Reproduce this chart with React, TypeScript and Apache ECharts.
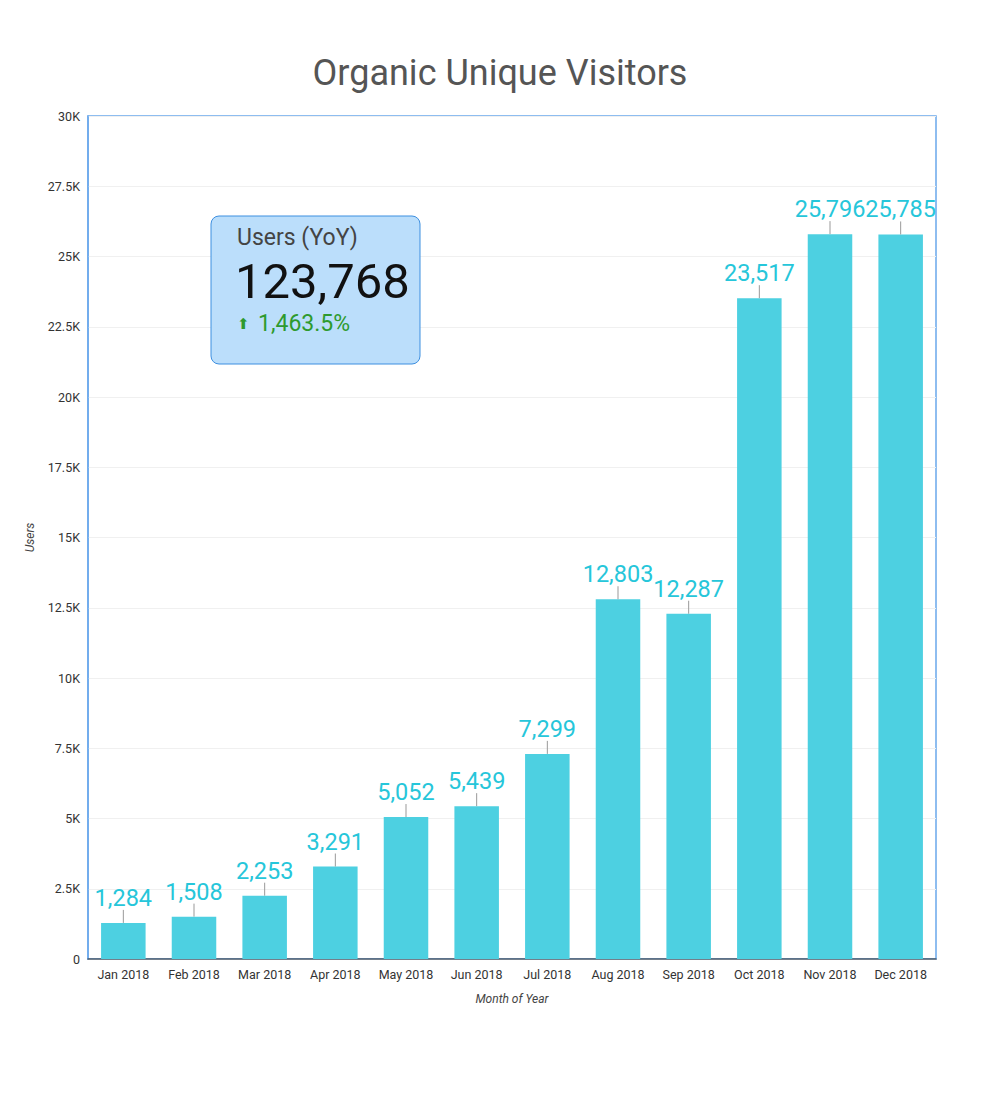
import React, { useEffect, useRef } from "react";
import * as echarts from "echarts";

const months = ["Jan 2018", "Feb 2018", "Mar 2018", "Apr 2018", "May 2018", "Jun 2018", "Jul 2018", "Aug 2018", "Sep 2018", "Oct 2018", "Nov 2018", "Dec 2018"];
const users = [1284, 1508, 2253, 3291, 5052, 5439, 7299, 12803, 12287, 23517, 25796, 25785];
const yTicks = ["0", "2.5K", "5K", "7.5K", "10K", "12.5K", "15K", "17.5K", "20K", "22.5K", "25K", "27.5K", "30K"];
const kpiTitle = "Users (YoY)";
const kpiValue = "123,768";
const kpiChange = "1,463.5%";

const FONT = "Roboto, 'Noto Sans', sans-serif";

export default function App() {
  const ref = useRef<HTMLDivElement>(null);
  useEffect(() => {
    const chart = echarts.init(ref.current!, null, { renderer: "svg" });
    const option: any = {
      animation: false,
      backgroundColor: "#fff",
      textStyle: { fontFamily: FONT },
      title: {
        text: "Organic Unique Visitors",
        left: "center",
        top: 50,
        textStyle: { fontFamily: FONT, fontSize: 36, fontWeight: "normal", color: "#555" },
      },
      grid: {
        left: 88,
        right: 64,
        top: 116,
        bottom: 141,
        show: true,
        borderColor: "#6aa8ec",
        borderWidth: 1.5,
        containLabel: false,
      },
      xAxis: {
        type: "category",
        data: months,
        name: "Month of Year",
        nameLocation: "middle",
        nameGap: 34,
        nameTextStyle: { fontStyle: "italic", fontSize: 12, color: "#444", fontFamily: FONT },
        axisLine: { lineStyle: { color: "#4a5a6a", width: 1.5 } },
        axisTick: { show: false },
        axisLabel: { interval: 0, fontSize: 12.5, color: "#333", margin: 9, fontFamily: FONT },
      },
      yAxis: {
        type: "value",
        min: 0,
        max: 30000,
        interval: 2500,
        name: "Users",
        nameLocation: "middle",
        nameGap: 52,
        nameTextStyle: { fontStyle: "italic", fontSize: 12, color: "#444", fontFamily: FONT },
        axisLine: { show: true, lineStyle: { color: "#6aa8ec", width: 1.5 } },
        axisTick: { show: false },
        splitLine: { lineStyle: { color: "#f0f0f0" } },
        axisLabel: {
          fontSize: 12.5,
          color: "#333",
          margin: 8,
          fontFamily: FONT,
          formatter: (v: number) => yTicks[Math.round(v / 2500)] ?? "",
        },
      },
      series: [
        {
          type: "bar",
          data: users,
          barWidth: "63%",
          itemStyle: { color: "#4dd0e1" },
          label: {
            show: true,
            position: "top",
            distance: 13,
            color: "#26c6da",
            fontSize: 23.5,
            fontFamily: FONT,
            formatter: (p: any) => Number(p.value).toLocaleString("en-US"),
          },
          z: 2,
        },
        {
          type: "custom",
          data: users,
          z: 3,
          silent: true,
          renderItem: (params: any, api: any) => {
            const pt = api.coord([api.value(0), api.value(1)]);
            return {
              type: "line",
              shape: { x1: pt[0], y1: pt[1], x2: pt[0], y2: pt[1] - 13 },
              style: { stroke: "#999", lineWidth: 1 },
            };
          },
          encode: { x: 0, y: 1 },
        },
      ],
      graphic: [
        {
          type: "rect",
          shape: { x: 211, y: 216, width: 209, height: 148, r: 8 },
          style: { fill: "#bbdefb", stroke: "#3d8fe0", lineWidth: 1 },
          z: 10,
        },
        {
          type: "text",
          x: 237,
          y: 226,
          style: { text: kpiTitle, fontSize: 23, fill: "#444", fontFamily: FONT },
          z: 11,
        },
        {
          type: "text",
          x: 235,
          y: 257,
          style: { text: kpiValue, fontSize: 49, fill: "#111", fontFamily: FONT },
          z: 11,
        },
        {
          type: "text",
          x: 237,
          y: 316,
          style: { text: "⬆", fontSize: 15, fill: "#2e9a2e", fontFamily: "DejaVu Sans" },
          z: 11,
        },
        {
          type: "text",
          x: 258,
          y: 312,
          style: { text: kpiChange, fontSize: 23, fill: "#2e9a2e", fontFamily: FONT },
          z: 11,
        },
      ],
    };
    chart.setOption(option);
    return () => chart.dispose();
  }, []);
  return <div ref={ref} style={{ width: 1000, height: 1100, margin: -8 }} />;
}
